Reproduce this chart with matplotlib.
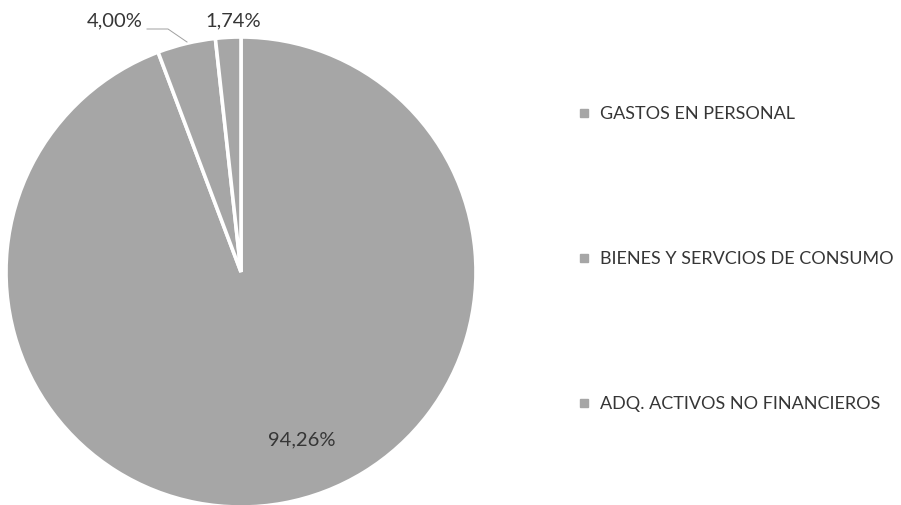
import matplotlib
matplotlib.use("Agg")
import matplotlib.pyplot as plt
from matplotlib.lines import Line2D

categories = ["GASTOS EN PERSONAL", "BIENES Y SERVCIOS DE CONSUMO", "ADQ. ACTIVOS NO FINANCIEROS"]
values = [94.26, 4.00, 1.74]
colors = ["#a6a6a6", "#a6a6a6", "#a6a6a6"]

plt.rcParams['font.family'] = ['Lato', 'DejaVu Sans']
text_color = "#363636"

W, H = 901, 505
fig = plt.figure(figsize=(W / 100, H / 100), dpi=100)
ax = fig.add_axes([0, 0, 1, 1])

cx, cy, r = 241, H - 272, 235
wedges, _ = ax.pie(values, colors=colors, startangle=90, counterclock=False,
                   center=(cx, cy), radius=r, frame=True,
                   wedgeprops=dict(edgecolor='white', linewidth=2.6))
ax.set_xlim(0, W)
ax.set_ylim(0, H)
ax.set_aspect('equal')
ax.axis('off')

def fmt(v):
    return f"{v:.2f}%".replace('.', ',')

fs = 14.5
ax.text(302, H - 440, fmt(values[0]), ha='center', va='center', fontsize=fs, color=text_color)
ax.text(115, H - 21, fmt(values[1]), ha='center', va='center', fontsize=fs, color=text_color)
ax.text(233, H - 21, fmt(values[2]), ha='center', va='center', fontsize=fs, color=text_color)
ax.plot([147, 168, 187], [H - 29, H - 29, H - 42], color='#a0a0a0', lw=0.7)

handles = [Line2D([0], [0], marker='s', linestyle='none', markersize=5.5,
                  markerfacecolor=c, markeredgecolor=c) for c in colors]
leg = fig.legend(handles, categories, loc='center left', bbox_to_anchor=(561 / W, 1 - 259 / H),
                 frameon=False, fontsize=13, labelspacing=7.15, handlelength=0.8,
                 handletextpad=0.45, labelcolor=text_color)

fig.savefig("out.png", dpi=100)
